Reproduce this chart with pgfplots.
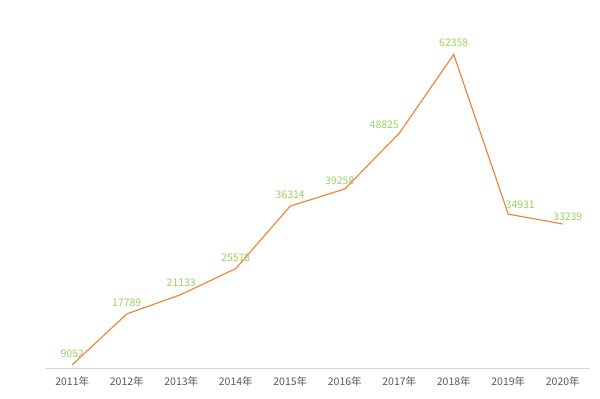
\documentclass[border=0pt]{standalone}
\usepackage{pgfplots}
\pgfplotsset{compat=1.18}
\usepackage{fontspec}
\setmainfont{Noto Sans CJK SC}
\definecolor{lineor}{HTML}{EE8840}
\definecolor{lblgreen}{HTML}{9BD160}
\definecolor{ticktext}{HTML}{595959}
\begin{document}
\begin{tikzpicture}[x=1pt,y=1pt]
\path (0,0) rectangle (600,399);
\begin{axis}[
  at={(45pt,31pt)}, anchor=south west,
  scale only axis, width=545pt, height=358pt,
  xmin=-0.5, xmax=9.5, ymin=8500, ymax=70000,
  axis x line=bottom, axis y line=none,
  axis line style={draw=black!15, line width=0.8pt, -},
  xtick={0,...,9},
  xticklabels={2011年,2012年,2013年,2014年,2015年,2016年,2017年,2018年,2019年,2020年},
  major tick length=0pt,
  xticklabel style={font=\fontsize{10.5}{12}\selectfont, text=ticktext, yshift=-5pt},
  nodes near coords,
  point meta=explicit symbolic,
  every node near coord/.append style={font=\fontsize{10.5}{12}\selectfont, text=lblgreen, yshift=3.5pt},
  coordinate style/.condition={\coordindex==5}{xshift=-5pt,yshift=-3pt},
  coordinate style/.condition={\coordindex==6}{xshift=-15pt,yshift=-3pt},
  coordinate style/.condition={\coordindex==8}{xshift=12pt,yshift=-2pt},
  coordinate style/.condition={\coordindex==9}{xshift=5pt,yshift=-4pt},
  clip=false,
]
\addplot[color=lineor, line width=1.2pt, mark=none] table[x=x, y=y, meta=y] {
x y
0 9052
1 17789
2 21133
3 25578
4 36314
5 39258
6 48825
7 62358
8 34931
9 33239
};
\end{axis}
\end{tikzpicture}
\end{document}
